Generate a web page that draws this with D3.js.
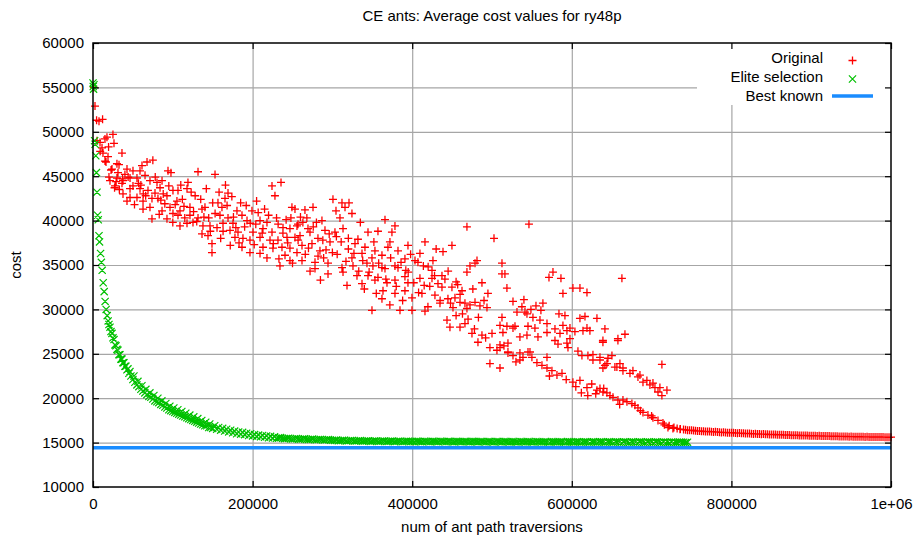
<!DOCTYPE html>
<html><head><meta charset="utf-8">
<script src="https://cdn.jsdelivr.net/npm/d3@7"></script>
<style>
body{margin:0;background:#fff}
text{font-family:"Liberation Sans",Arial,Helvetica,sans-serif;fill:#000}
</style>
</head><body>
<svg id="chart" width="917" height="544"></svg>
<script>
const chartTitle = "CE ants: Average cost values for ry48p";
const xLabel = "num of ant path traversions";
const yLabel = "cost";
const xTicks = [0, 200000, 400000, 600000, 800000, 1000000];
const xTickLabels = ["0", "200000", "400000", "600000", "800000", "1e+06"];
const yTicks = [10000, 15000, 20000, 25000, 30000, 35000, 40000, 45000, 50000, 55000, 60000];
const seriesNames = ["Original", "Elite selection", "Best known"];
const seriesColors = ["#ff0000", "#00c000", "#1a8cff"];
const bestKnown = 14422;

const originalPoints = [
[1000,55000],[2500,52900],[4500,51300],[7500,51200],[12000,51400],
[5000,49000],[8800,48800],[15000,49200],[17500,49400],[25000,49700],[26300,48700],[11300,48200],[12500,47600],[18800,47200],[36300,47600],[15000,46700],[30000,46400],[23800,45800],[31300,45400],[42600,45800],[21300,44500],[30000,44800],[37600,44500],[46400,44800],[27600,43900],[16300,46600],[32600,46300],[22600,45700],[20000,44900],[29000,44400],[37000,44700],[44000,44900],[27000,43700],[36300,44200],[46400,43600],[37600,43000],[9000,47800],[19500,48300],[40000,45200],[33000,43500],
[67700,46600],[61400,46200],[58900,45600],[50100,45600],[55100,44800],[65200,45100],[71400,44500],[80200,44300],[94000,45600],[97700,45400],[86500,44500],[50100,43900],[58900,43600],[68900,43400],[77700,43100],[84000,43700],[46400,42600],[55100,42600],[62700,42200],[73900,42500],[81400,42500],[92700,42800],[100200,43400],[105200,42200],[42600,42200],[106500,43400],[117800,43600],[119000,44300],[131600,45500],[152900,45200],[96500,41500],[109000,41100],[121500,41500],[136600,41300],[71400,41500],[62700,41300],[86500,41100],[100200,40800],[73900,40200],[92700,40200],[106500,40600],[121500,40600],[131600,40300],[140300,41500],[117800,39700],[125300,39800],[137800,39400],[109000,39400],[146600,39400],[155400,39200],[136600,38500],[144100,38300],[149100,37400],
[57000,44200],[63000,43000],[75000,46800],[88000,43000],[90000,41900],[112000,42400],[115000,40300],[128000,42800],[126000,41000],[145000,40300],[150000,42000],[142000,43600],[100000,39800],[83000,40700],[52000,41800],
[156600,42000],[165400,42500],[169200,43100],[161600,41500],[159100,40600],[169200,40300],[180400,41100],[186700,40600],[199200,41100],[193000,40000],[175400,39700],[162900,39700],[171700,38900],[181700,38700],[200500,38700],[209300,40000],[218000,39800],[228000,42800],[224300,43900],[235600,44300],[249300,41500],[213000,39100],[224300,38700],[238100,39200],[246800,39100],[255600,39400],[209300,38100],[221800,37800],[231800,37800],[243100,38100],[253100,38100],[213000,37000],[225500,36900],[236800,37000],[246800,36900],[196700,37800],[187900,38000],[177900,38100],[196700,36400],[209300,36300],[186700,37000],[218000,35800],[240600,36100],[149100,36400],
[160000,38000],[172000,37200],[190000,39300],[204000,39600],[215000,41300],[230000,40300],[242000,40100],[205000,42200],[185000,42000],[176000,40400],[233000,35700],[250000,35200],[166000,44000],
[253100,41300],[265600,41200],[275700,41500],[256900,39600],[269400,39100],[259400,38300],[271900,38700],[281900,38000],[290700,38900],[261900,37200],[274400,37400],[284400,36600],[255600,36400],[278200,35300],[261900,35500],[294500,35200],[278200,34600],[294500,34000],[246800,35500],[234300,34900],
[300700,42400],[312000,42000],[320800,42000],[304500,41100],[315800,41500],[324500,40800],[309500,40300],[286900,40000],
[268000,40300],[280000,39800],[297000,37600],[288000,37800],[300000,36400],[305000,38200],[266000,36200],[292000,36700],[272000,34300],[285000,33300],[260000,40400],
[365900,40100],[378400,39400],[468600,39300],[502500,38000],[416000,37600],[438600,36500],[449800,37200],[372100,37600],[394700,37200],[303200,38700],[313300,39100],[344600,38700],[357100,38800],[374600,38700],[328300,37400],[340800,37000],[353300,36600],[369600,37000],[382200,36600],[324500,35800],[337100,36300],[349600,35800],[362100,36100],[390900,35700],[403500,35500],[409700,36300],[312000,34700],[325800,34900],[343300,35200],[350800,34900],[362100,34700],[378400,34900],[407200,35300],[426000,35500],[481200,35500],[478700,35200],[472400,34900],[468600,34200],[512500,34000],[313300,34200],[330800,33800],[344600,33800],[357100,33600],[365900,34600],[382200,34700],[390900,33700],[424800,34400],[437300,33800],[318300,32700],[337100,32900],[353300,33300],[368400,33000],[378400,33300],[394700,33000],[409700,33500],[424800,33500],[432300,32900],[449800,32500],[462400,32100],[487400,33000],[494900,31800],[363400,32100],[378400,31800],[390900,32100],[399700,31300],[412200,31800],[428500,31600],[437300,32500],[444800,31200],[453600,31300],[466100,30700],[478700,30800],[493700,30200],[419700,30300],[434800,30700],[362100,31200],[349600,29900],[384700,29900],[399700,29900],[416000,29800],
[320000,36800],[333000,34300],[340000,32300],[355000,31800],[372000,30500],[388000,31000],[395000,34200],[415000,32700],[420000,34800],[445000,34300],[455000,33100],[460000,31700],[398000,36200],[430000,36800],[335000,39800],[320000,38000],
[60000,44000],[66000,42800],[78000,44900],[85000,42300],[95000,43900],[103000,41800],[110000,44000],[114000,41600],[123000,43200],[130000,39900],[135000,42400],[139000,40400],[147000,38800],[153000,40800],[158000,43200],[163000,38800],[168000,41700],[174000,42700],[179000,39200],[183000,37500],[192000,41700],[197000,39700],[202000,37300],[207000,40900],[212000,38600],[220000,40600],[226000,37400],[232000,39600],[238000,38600],[244000,37500],[248000,40300],[257000,37800],[263000,39800],[270000,36900],[276000,39300],[282000,36000],[289000,35800],[296000,38500],[306000,36200],[311000,37600],[317000,35400],[327000,36300],[332000,37900],[338000,35500],[346000,34200],[352000,37600],[358000,35200],[367000,33400],[373000,35800],[380000,32600],[386000,35300],[392000,34400],[402000,33000],[408000,31900],[414000,34900],[422000,32600],[428000,33800],[435000,31000],[441000,33400],[448000,30700],[457000,32800],[463000,29500],[476000,32300],[483000,29100],[490000,31000],
[459900,30800],[472400,30500],[484900,30400],[451100,30200],[468600,30100],
[443600,28800],[447300,28000],[459900,28000],[466100,28400],[474900,27300],[482400,26300],[487400,27100],[497400,25700],[506200,25400],[510000,26000],[520000,25200],[526300,24800],[535000,24300],[538800,24600],[545100,25200],[556300,24000],[562600,23700],[568900,23400],[575100,23100],[581400,22600],[587700,22800],[601400,21800],[610200,22000],[619000,21200],[631500,20900],[644000,20600],[651600,20100],
[455000,29300],[470000,28900],[478000,27800],[492000,26800],[500000,27300],[515000,25900],[530000,24100],[550000,24600],[572000,22500],[593000,22100],[605000,21300],[625000,21600],[640000,21100],[497400,23900],[510000,23400],
[546300,39600],[512500,35200],[516200,34000],[576400,34200],[571400,33600],[586400,33500],[662800,33500],[518700,32400],[588900,31800],[601400,32400],[610200,32400],[619000,31900],[526300,30900],[540000,31100],[537500,30300],[531300,29700],[541300,29700],[548800,30000],[555100,30400],[563800,30700],[561300,29900],[583900,29500],[591400,29300],[610200,29000],[616500,29200],[631500,29000],[512500,29100],[510000,28200],[518700,28100],[528800,28100],[545100,28100],[553800,27900],[526300,27900],[513700,27400],[568900,27400],[578900,27800],[588900,28200],[597700,27900],[603900,27500],[614000,27600],[622700,27600],[641500,27800],[666600,27200],[657800,26700],[639000,26500],[535000,26900],[543800,27100],[557600,26900],[578900,26500],[582700,26100],[593900,26200],[597700,26700],[520000,26200],[520000,25100],[535000,25100],[547600,25200],[568900,24600],[595200,25700],[607700,25300],[620200,24800],[626500,24900],[650300,24800],[510000,25700],
[543800,29500],[551300,29100],[560100,28800],[568900,28400],[593900,27600],[619000,27900],[585200,27300],[612700,24800],[635300,24600],[644000,23900],[656500,23500],[664100,23400],[676600,23100],[685400,22600],[694100,22000],[701700,21700],[710400,21200],[719200,20900],
[635300,24300],[645300,24500],[654000,23500],[660300,23900],[664100,23100],[672900,22800],[639000,23400],[641500,23700],[682900,22400],[689200,21800],[697900,21500],[704200,21200],[708000,20700],[712900,20300],[712900,23800],[666600,27200],[657800,26500],[639000,26300],[626500,24300],
[635300,21100],[639000,20700],[647800,20300],[657800,19800],[664100,19800],[669100,19600],[675300,19400],[679100,19200],[682900,18900],[689200,18400],[695400,18100],[701700,17800],[708000,17500],[714200,17200],[720500,16700],[726700,16600],[735500,16500],
[630000,20500],[620000,20300],[612000,20600],[660000,19300],[686000,18600],[700000,18000],[716000,17000],
[722000,16900],[728000,16700],[732000,16600],[736000,16520],[740000,16470],[745000,16400],[750000,16390],[755000,16330],[760000,16310],[765000,16270],[770000,16260],[775000,16220],[780000,16210],[785000,16170],[790000,16160],[795000,16120],[800000,16110],[805000,16080],[810000,16070],[815000,16040],[820000,16030],[825000,16000],[830000,15990],[835000,15960],[840000,15960],[845000,15930],[850000,15920],[855000,15900],[860000,15890],[865000,15870],[870000,15860],[875000,15840],[880000,15840],[885000,15810],[890000,15810],[895000,15790],[900000,15780],[905000,15760],[910000,15760],[915000,15740],[920000,15740],[925000,15720],[930000,15720],[935000,15700],[940000,15700],[945000,15680],[950000,15680],[955000,15670],[960000,15660],[965000,15650],[970000,15650],[975000,15640],[980000,15630],[985000,15630],[990000,15620],[995000,15610],[1000000,15610],
[742500,16440],[747500,16380],[752500,16360],[757500,16300],[762500,16290],[767500,16250],[772500,16240],[777500,16200],[782500,16190],[787500,16150],[792500,16140],[797500,16100],[802500,16100],[807500,16060],[812500,16060],[817500,16020],[822500,16020],[827500,15980],[832500,15980],[837500,15950],[842500,15950],[847500,15910],[852500,15910],[857500,15880],[862500,15880],[867500,15850],[872500,15850],[877500,15830],[882500,15830],[887500,15800],[892500,15800],[897500,15770],[902500,15770],[907500,15750],[912500,15750],[917500,15730],[922500,15730],[927500,15710],[932500,15710],[937500,15690],[942500,15690],[947500,15670],[952500,15670],[957500,15660],[962500,15650],[967500,15640],[972500,15640],[977500,15630],[982500,15620],[987500,15620],[992500,15610],[997500,15600]
];

const elitePoints = [
[0,55500],[300,55100],[700,54800],[1200,55300],[2000,49000],[2600,48600],[3500,47300],[4300,45400],[5000,43200],[5800,40600],[6600,40100],[7500,38300],[8200,37600],[9500,36300],[10500,35300],[11500,34400],[12800,33000],[14000,32000],[15200,30900],[16500,30000],[17800,29300],[19000,28700],[20000,28300],[21300,28000],[22500,27500],[23800,27300],[25000,26800],[26300,26600],[27500,26000],[28800,25900],[30000,25500],[31300,25400],[32500,24900],[33800,24900],[35000,24400],[36300,24400],[37500,24000],[38800,24000],[40000,23600],[41300,23600],[42500,23200],[43800,23300],[45000,22800],[46300,23000],[47500,22500],[50000,22100],[51300,22500],[52500,21800],[55000,21500],[56300,21900],[57500,21300],[60000,21000],[61300,21400],[62500,20800],[65000,20600],[66300,21000],[67500,20400],[70000,20200],[71300,20600],[72500,20100],[75000,19900],[76300,20300],[77500,19700],[80000,19600],[81300,20000],[82500,19500],[85000,19300],[86300,19700],[87500,19200],[90000,19000],[91300,19400],[92500,18900],[95000,18700],[96300,19100],[97500,18600],[100000,18500],[101300,18900],[102500,18400],[105000,18300],[106300,18700],[107500,18200],[110000,18100],[111300,18500],[112500,18000],[115000,17900],[116300,18300],[117500,17800],[120000,17700],[121300,18100],[122500,17600],[125000,17500],[126300,17900],[127500,17400],[130000,17300],[131300,17700],[132500,17200],[135000,17100],[136300,17500],[137500,17000],[140000,16900],[141300,17300],[142500,16900],[145000,16700],[146300,17100],[147500,16700],[150000,16600],[152500,16900],[155000,16500],[157500,16700],[160000,16400],[162500,16600],[165000,16300],[167500,16500],[170000,16200],[172500,16400],[175000,16100],[177500,16300],[180000,16000],[182500,16200],[185000,15950],[187500,16150],[190000,15900],[192500,16050],[195000,15800],[197500,16000],[200000,15750],[202500,15900],[205000,15700],[207500,15850],[210000,15650],[212500,15800],[215000,15600],[217500,15750],[220000,15550],[222500,15700],[225000,15520],[227500,15650],[230000,15480],[235000,15560],[240000,15450],[245000,15500],[250000,15400],[255000,15460],[260000,15370],[265000,15430],[270000,15340],[275000,15400],[280000,15320],[285000,15360],[290000,15290],[295000,15340],[300000,15260],
[232500,15530],[237500,15480],[242500,15470],[247500,15430],[252500,15430],[257500,15390],[262500,15400],[267500,15370],[272500,15360],[277500,15350],[282500,15340],[287500,15310],[292500,15320],[297500,15280],[302500,15250],
[305000,15280],[310000,15230],[315000,15260],[320000,15210],[325000,15240],[330000,15190],[335000,15220],[340000,15170],[345000,15200],[350000,15160],[355000,15190],[360000,15150],[365000,15180],[370000,15140],[375000,15170],[380000,15130],[385000,15160],[390000,15120],[395000,15150],[400000,15130],[405000,15160],[410000,15110],[415000,15150],[420000,15120],[425000,15140],[430000,15110],[435000,15150],[440000,15120],[445000,15140],[450000,15100],[455000,15140],[460000,15110],[465000,15130],[470000,15100],[475000,15140],[480000,15110],[485000,15120],[490000,15090],[495000,15130],[500000,15100],[505000,15120],[510000,15090],[515000,15130],[520000,15100],[525000,15110],[530000,15080],[535000,15120],[540000,15090],[545000,15110],[550000,15080],[555000,15120],[560000,15090],[565000,15100],[570000,15070],[575000,15110],[580000,15080],[585000,15100],[590000,15070],[595000,15110],[600000,15080],[605000,15100],[610000,15070],[615000,15100],[620000,15070],[625000,15090],[630000,15060],[635000,15100],[640000,15070],[645000,15090],[650000,15060],[655000,15090],[660000,15070],[665000,15080],[670000,15050],[675000,15090],[680000,15060],[685000,15080],[690000,15050],[695000,15080],[700000,15060],[705000,15080],[710000,15050],[715000,15070],[720000,15040],[725000,15070],[730000,15050],[735000,15060],[740000,15040],[745000,15050],
[307500,15200],[312500,15250],[317500,15190],[322500,15230],[327500,15170],[332500,15210],[337500,15160],[342500,15190],[347500,15140],[352500,15180],[357500,15130],[362500,15170],[367500,15120],[372500,15160],[377500,15110],[382500,15150],[387500,15100],[392500,15140],[397500,15110],[402500,15100],[407500,15140],[412500,15090],[417500,15130],[422500,15100],[427500,15130],[432500,15090],[437500,15130],[442500,15090],[447500,15120],[452500,15080],[457500,15120],[462500,15090],[467500,15110],[472500,15080],[477500,15120],[482500,15080],[487500,15110],[492500,15070],[497500,15110],[502500,15070],[507500,15110],[512500,15070],[517500,15110],[522500,15070],[527500,15100],[532500,15060],[537500,15100],[542500,15060],[547500,15100],[552500,15060],[557500,15100],[562500,15060],[567500,15090],[572500,15050],[577500,15090],[582500,15060],[587500,15090],[592500,15050],[597500,15090],[602500,15050],[607500,15090],[612500,15050],[617500,15080],[622500,15050],[627500,15080],[632500,15040],[637500,15080],[642500,15040],[647500,15080],[652500,15040],[657500,15070],[662500,15040],[667500,15070],[672500,15030],[677500,15070],[682500,15040],[687500,15060],[692500,15030],[697500,15060],[702500,15030],[707500,15060],[712500,15030],[717500,15050],[722500,15020],[727500,15050],[732500,15030],[737500,15040],[742500,15020]
];

const W = 917, H = 544;
const m = {left: 93, right: 891, top: 43, bottom: 487};
const svg = d3.select("#chart");
svg.append("rect").attr("width", W).attr("height", H).attr("fill", "#fff");

const x = d3.scaleLinear().domain([0, 1000000]).range([m.left, m.right]);
const y = d3.scaleLinear().domain([10000, 60000]).range([m.bottom, m.top]);
const pw = m.right - m.left, ph = m.bottom - m.top;

// grid
const grid = svg.append("g");
grid.append("g").attr("transform", `translate(0,${m.bottom})`)
  .call(d3.axisBottom(x).tickValues(xTicks.slice(1, -1)).tickSize(-ph).tickFormat(""))
  .call(g => g.select(".domain").remove())
  .call(g => g.selectAll("line").attr("stroke", "#a6a6a6").attr("stroke-width", 1.2));
grid.append("g").attr("transform", `translate(${m.left},0)`)
  .call(d3.axisLeft(y).tickValues(yTicks.slice(1, -1)).tickSize(-pw).tickFormat(""))
  .call(g => g.select(".domain").remove())
  .call(g => g.selectAll("line").attr("stroke", "#a6a6a6").attr("stroke-width", 1.2));

// markers
const plusSize = 4, crossSize = 3.6;
function plusPath(pts, s) {
  return pts.map(d => { const cx = x(d[0]), cy = y(d[1]);
    return `M${cx - s},${cy}H${cx + s}M${cx},${cy - s}V${cy + s}`; }).join("");
}
function crossPath(pts, s) {
  return pts.map(d => { const cx = x(d[0]), cy = y(d[1]);
    return `M${cx - s},${cy - s}L${cx + s},${cy + s}M${cx - s},${cy + s}L${cx + s},${cy - s}`; }).join("");
}
svg.append("path").attr("d", plusPath(originalPoints, plusSize))
  .attr("stroke", seriesColors[0]).attr("stroke-width", 1.3).attr("fill", "none");
svg.append("path").attr("d", crossPath(elitePoints, crossSize))
  .attr("stroke", seriesColors[1]).attr("stroke-width", 1.2).attr("fill", "none");
svg.append("line").attr("x1", x(0)).attr("x2", x(1000000))
  .attr("y1", y(bestKnown)).attr("y2", y(bestKnown))
  .attr("stroke", seriesColors[2]).attr("stroke-width", 3.5);

// key
svg.append("rect").attr("x", 697).attr("y", m.top).attr("width", m.right - 697).attr("height", 62).attr("fill", "#fff");
const key = svg.append("g").attr("font-size", 15);
const keyY = [63, 82, 101];
seriesNames.forEach((n, i) => {
  key.append("text").attr("x", 823).attr("y", keyY[i]).attr("text-anchor", "end").text(n);
});
key.append("path").attr("d", `M${852.5 - plusSize},60.5H${852.5 + plusSize}M852.5,${60.5 - plusSize}V${60.5 + plusSize}`)
  .attr("stroke", seriesColors[0]).attr("stroke-width", 1.3);
key.append("path").attr("d", `M${852.5 - crossSize},${79 - crossSize}L${852.5 + crossSize},${79 + crossSize}M${852.5 - crossSize},${79 + crossSize}L${852.5 + crossSize},${79 - crossSize}`)
  .attr("stroke", seriesColors[1]).attr("stroke-width", 1.2);
key.append("line").attr("x1", 832).attr("x2", 873).attr("y1", 96).attr("y2", 96)
  .attr("stroke", seriesColors[2]).attr("stroke-width", 3.5);

// axes with inward ticks (mirrored)
const tk = 6;
function styleAxis(g) {
  g.select(".domain").remove();
  g.selectAll("line").attr("stroke", "#000").attr("stroke-width", 1.2);
  g.selectAll("text").attr("font-size", 15).attr("font-family", '"Liberation Sans",Arial,sans-serif').attr("fill", "#000");
}
svg.append("g").attr("transform", `translate(0,${m.bottom})`)
  .call(d3.axisBottom(x).tickValues(xTicks).tickSize(-tk).tickPadding(11).tickFormat((d, i) => xTickLabels[i]))
  .call(styleAxis);
svg.append("g").attr("transform", `translate(0,${m.top})`)
  .call(d3.axisTop(x).tickValues(xTicks).tickSize(-tk).tickFormat(""))
  .call(styleAxis);
svg.append("g").attr("transform", `translate(${m.left},0)`)
  .call(d3.axisLeft(y).tickValues(yTicks).tickSize(-tk).tickPadding(9).tickFormat(d3.format("d")))
  .call(styleAxis);
svg.append("g").attr("transform", `translate(${m.right},0)`)
  .call(d3.axisRight(y).tickValues(yTicks).tickSize(-tk).tickFormat(""))
  .call(styleAxis);

// border
svg.append("rect").attr("x", m.left).attr("y", m.top).attr("width", pw).attr("height", ph)
  .attr("fill", "none").attr("stroke", "#000").attr("stroke-width", 1.5);

// titles
svg.append("text").attr("x", (m.left + m.right) / 2).attr("y", 21).attr("text-anchor", "middle")
  .attr("font-size", 15).text(chartTitle);
svg.append("text").attr("x", (m.left + m.right) / 2).attr("y", 532).attr("text-anchor", "middle")
  .attr("font-size", 15).text(xLabel);
svg.append("text").attr("transform", `translate(21,${(m.top + m.bottom) / 2}) rotate(-90)`)
  .attr("text-anchor", "middle").attr("font-size", 15).text(yLabel);
</script>
</body></html>
